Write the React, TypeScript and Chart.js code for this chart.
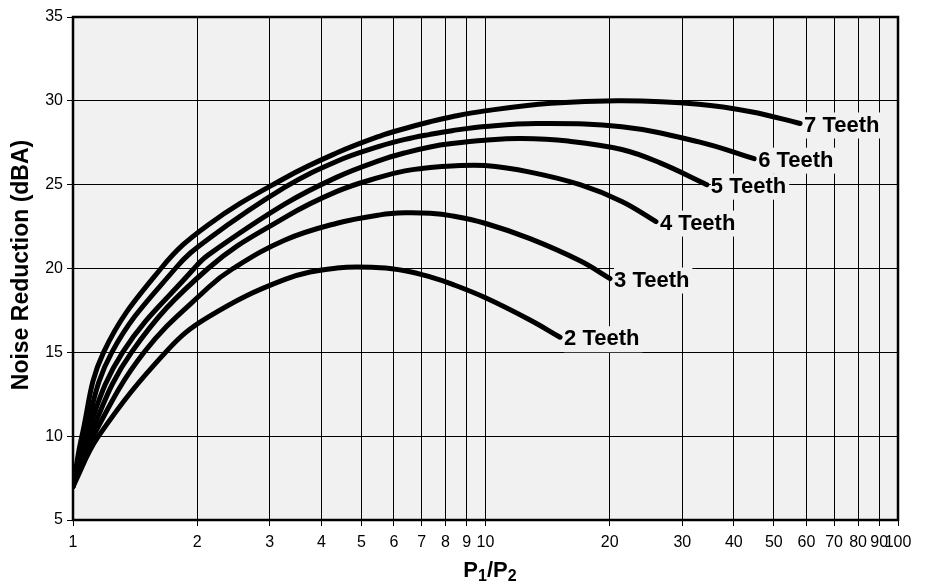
import React, { useEffect, useRef } from "react";
import { Chart, registerables } from "chart.js";

Chart.register(...registerables);

const xTicks = [1, 2, 3, 4, 5, 6, 7, 8, 9, 10, 20, 30, 40, 50, 60, 70, 80, 90, 100];
const yTicks = [5, 10, 15, 20, 25, 30, 35];

const seriesLabels = ["2 Teeth", "3 Teeth", "4 Teeth", "5 Teeth", "6 Teeth", "7 Teeth"];

const teeth2: [number, number][] = [
  [1, 7], [1.153, 10], [1.691, 15.1], [2.125, 17.1], [3.266, 19.35], [4.365, 20.03],
  [5.55, 20.05], [6.38, 19.87], [7.34, 19.5], [8.29, 19.07], [9.97, 18.27], [12.82, 16.93], [15.16, 15.9],
];
const teeth3: [number, number][] = [
  [1, 7], [1.12, 10], [1.487, 15], [2.125, 18.85], [2.443, 20], [3.266, 21.7], [4.365, 22.7],
  [5.55, 23.2], [6.38, 23.32], [7.34, 23.29], [8.29, 23.14], [9.97, 22.7], [12.82, 21.78],
  [16.95, 20.46], [20.04, 19.4],
];
const teeth4: [number, number][] = [
  [1, 7], [1.098, 10], [1.386, 15], [2.125, 20], [3.266, 23.05], [4.365, 24.6], [5.55, 25.45],
  [6.38, 25.82], [7.34, 26.02], [8.29, 26.12], [9.97, 26.14], [12.82, 25.75], [16.95, 25.0],
  [21.4, 24.0], [25.9, 22.8],
];
const teeth5: [number, number][] = [
  [1, 7], [1.076, 10], [1.319, 15], [1.965, 20], [2.125, 20.8], [3.266, 23.85], [4.365, 25.45],
  [5.55, 26.45], [6.38, 26.9], [7.34, 27.25], [8.29, 27.45], [9.97, 27.65], [12.19, 27.75],
  [15.85, 27.6], [21.4, 27.1], [26.5, 26.3], [34.4, 25.0],
];
const teeth6: [number, number][] = [
  [1, 7], [1.065, 10], [1.242, 15], [1.77, 20], [2.125, 21.75], [3.266, 24.85], [4.365, 26.4],
  [5.55, 27.3], [6.38, 27.7], [7.34, 28.0], [8.29, 28.22], [9.97, 28.47], [13.33, 28.65],
  [21.4, 28.45], [32.9, 27.55], [44.8, 26.55],
];
const teeth7: [number, number][] = [
  [1, 7], [1.051, 10], [1.186, 15], [1.634, 20], [2.125, 22.6], [3.266, 25.4], [4.365, 26.9],
  [5.55, 27.9], [6.38, 28.35], [7.34, 28.75], [8.29, 29.05], [9.97, 29.4], [14.4, 29.85],
  [21.4, 30.0], [32.9, 29.8], [44.0, 29.35], [57.9, 28.65],
];

const allSeries = [teeth2, teeth3, teeth4, teeth5, teeth6, teeth7];

const FONT = "'Liberation Sans', Arial, Helvetica, sans-serif";
const PLOT_BG = "#f1f1f1";

export default function App() {
  const canvasRef = useRef<HTMLCanvasElement | null>(null);

  useEffect(() => {
    const canvas = canvasRef.current;
    if (!canvas) return;

    const bgPlugin = {
      id: "bgPlugin",
      beforeDraw(chart: any) {
        const { ctx, chartArea } = chart;
        ctx.save();
        ctx.fillStyle = PLOT_BG;
        ctx.fillRect(chartArea.left, chartArea.top, chartArea.right - chartArea.left, chartArea.bottom - chartArea.top);
        ctx.restore();
      },
    };

    const labelPlugin = {
      id: "labelPlugin",
      afterDatasetsDraw(chart: any) {
        const { ctx } = chart;
        ctx.save();
        ctx.font = `bold 22px ${FONT}`;
        ctx.textBaseline = "middle";
        ctx.textAlign = "left";
        chart.data.datasets.forEach((ds: any, i: number) => {
          const meta = chart.getDatasetMeta(i);
          const last = meta.data[meta.data.length - 1];
          if (!last) return;
          const tx = last.x + 4;
          const ty = last.y + 2;
          const w = ctx.measureText(ds.label).width;
          ctx.fillStyle = PLOT_BG;
          ctx.fillRect(tx, ty - 13, w + 3, 26);
          ctx.fillStyle = "#000";
          ctx.fillText(ds.label, tx, ty);
        });
        ctx.restore();
      },
    };

    const framePlugin = {
      id: "framePlugin",
      afterDraw(chart: any) {
        const { ctx, chartArea } = chart;
        ctx.save();
        ctx.strokeStyle = "#000";
        ctx.lineWidth = 2.5;
        ctx.strokeRect(chartArea.left, chartArea.top, chartArea.right - chartArea.left, chartArea.bottom - chartArea.top);

        // Y title
        ctx.save();
        ctx.translate(22, 265);
        ctx.rotate(-Math.PI / 2);
        ctx.font = `bold 23px ${FONT}`;
        ctx.fillStyle = "#000";
        ctx.textAlign = "center";
        ctx.textBaseline = "middle";
        ctx.fillText("Noise Reduction (dBA)", 0, 0);
        ctx.restore();

        // X title P1/P2 with subscripts
        const parts: [string, boolean][] = [["P", false], ["1", true], ["/", false], ["P", false], ["2", true]];
        const big = `bold 22px ${FONT}`;
        const small = `bold 16px ${FONT}`;
        let total = 0;
        parts.forEach(([t, sub]) => {
          ctx.font = sub ? small : big;
          total += ctx.measureText(t).width;
        });
        let x = 490 - total / 2;
        const baseY = 577;
        ctx.fillStyle = "#000";
        ctx.textAlign = "left";
        ctx.textBaseline = "alphabetic";
        parts.forEach(([t, sub]) => {
          ctx.font = sub ? small : big;
          ctx.fillText(t, x, sub ? baseY + 4 : baseY);
          x += ctx.measureText(t).width;
        });
        ctx.restore();
      },
    };

    const chart = new Chart(canvas, {
      type: "line",
      data: {
        datasets: allSeries.map((s, i) => ({
          label: seriesLabels[i],
          data: s.map(([x, y]) => ({ x, y })),
          borderColor: "#000",
          backgroundColor: "#000",
          borderWidth: 5,
          pointRadius: 0,
          fill: false,
          tension: 0.4,
          borderCapStyle: "round" as const,
          borderJoinStyle: "round" as const,
        })),
      },
      options: {
        animation: false,
        responsive: false,
        maintainAspectRatio: false,
        layout: { padding: { left: 0, right: 29, top: 17, bottom: 0 } },
        plugins: {
          legend: { display: false },
          tooltip: { enabled: false },
        },
        scales: {
          x: {
            type: "logarithmic",
            min: 1,
            max: 100,
            afterBuildTicks: (scale: any) => {
              scale.ticks = xTicks.map((v) => ({ value: v }));
            },
            afterFit: (scale: any) => {
              scale.height = 62;
            },
            ticks: {
              autoSkip: false,
              maxRotation: 0,
              minRotation: 0,
              padding: 7,
              color: "#000",
              font: { family: FONT, size: 16 },
              callback: (v: any) => String(v),
            },
            grid: { color: "#000", lineWidth: 1, tickLength: 6, drawTicks: true, tickColor: "#000" },
            border: { display: false },
          },
          y: {
            type: "linear",
            min: 5,
            max: 35,
            afterBuildTicks: (scale: any) => {
              scale.ticks = yTicks.map((v) => ({ value: v }));
            },
            afterFit: (scale: any) => {
              scale.width = 73;
            },
            ticks: {
              padding: 4,
              color: "#000",
              font: { family: FONT, size: 16 },
              callback: (v: any) => String(v),
            },
            grid: { color: "#000", lineWidth: 1, tickLength: 6, drawTicks: true, tickColor: "#000" },
            border: { display: false },
          },
        },
      },
      plugins: [bgPlugin, labelPlugin, framePlugin],
    });

    return () => {
      chart.destroy();
    };
  }, []);

  return (
    <div style={{ position: "fixed", left: 0, top: 0, width: 927, height: 582, background: "#fff" }}>
      <canvas ref={canvasRef} width={927} height={582} style={{ display: "block" }} />
    </div>
  );
}
